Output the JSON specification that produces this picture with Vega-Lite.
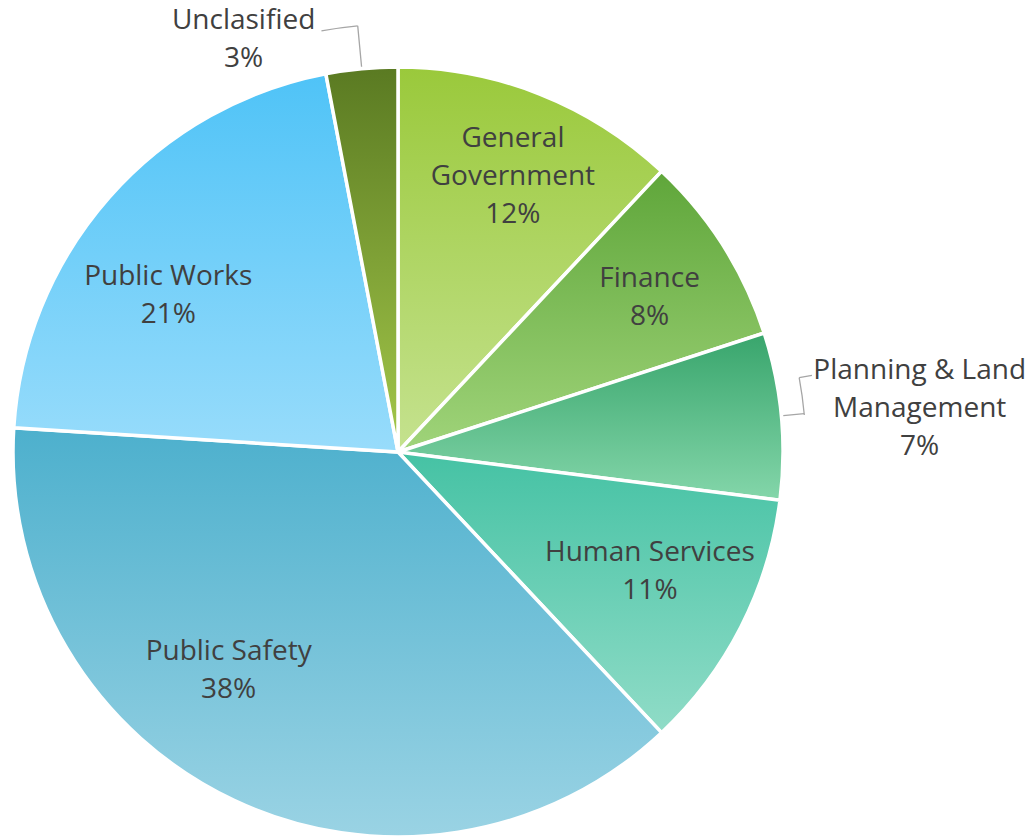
{
  "$schema": "https://vega.github.io/schema/vega-lite/v6.json",
  "width": 796,
  "height": 774,
  "autosize": "none",
  "padding": {"left": 0, "top": 65, "right": 234, "bottom": 0},
  "background": "white",
  "data": {
    "values": [
      {"name": "General Government", "label": "General\nGovernment", "value": 12, "ord": 1},
      {"name": "Finance", "label": "Finance", "value": 8, "ord": 2},
      {"name": "Planning & Land Management", "label": "Planning & Land\nManagement", "value": 7, "ord": 3},
      {"name": "Human Services", "label": "Human Services", "value": 11, "ord": 4},
      {"name": "Public Safety", "label": "Public Safety", "value": 38, "ord": 5},
      {"name": "Public Works", "label": "Public Works", "value": 21, "ord": 6},
      {"name": "Unclasified", "label": "Unclasified", "value": 3, "ord": 7}
    ]
  },
  "transform": [{"calculate": "datum.label + '\\n' + datum.value + '%'", "as": "txt"}],
  "encoding": {
    "theta": {"field": "value", "type": "quantitative", "stack": true},
    "order": {"field": "ord", "type": "quantitative", "sort": "ascending"}
  },
  "layer": [
    {
      "mark": {"type": "arc", "radius": 385, "stroke": "white", "strokeWidth": 3.5},
      "encoding": {
        "fill": {
          "condition": [
            {"test": "datum.name === 'General Government'", "value": {"gradient": "linear", "x1": 0, "y1": 0, "x2": 0, "y2": 1, "stops": [{"offset": 0, "color": "#9ac93b"}, {"offset": 1, "color": "#c5e28f"}]}},
            {"test": "datum.name === 'Finance'", "value": {"gradient": "linear", "x1": 0, "y1": 0, "x2": 0, "y2": 1, "stops": [{"offset": 0, "color": "#5fa63a"}, {"offset": 1, "color": "#a0d47a"}]}},
            {"test": "datum.name === 'Planning & Land Management'", "value": {"gradient": "linear", "x1": 0, "y1": 0, "x2": 0, "y2": 1, "stops": [{"offset": 0, "color": "#38a56c"}, {"offset": 1, "color": "#84d6aa"}]}},
            {"test": "datum.name === 'Human Services'", "value": {"gradient": "linear", "x1": 0, "y1": 0, "x2": 0, "y2": 1, "stops": [{"offset": 0, "color": "#45c2a4"}, {"offset": 1, "color": "#90dcc7"}]}},
            {"test": "datum.name === 'Public Safety'", "value": {"gradient": "linear", "x1": 0, "y1": 0, "x2": 0, "y2": 1, "stops": [{"offset": 0, "color": "#4db0cd"}, {"offset": 1, "color": "#9ad3e4"}]}},
            {"test": "datum.name === 'Public Works'", "value": {"gradient": "linear", "x1": 0, "y1": 0, "x2": 0, "y2": 1, "stops": [{"offset": 0, "color": "#4fc3f7"}, {"offset": 1, "color": "#98dcfb"}]}},
            {"test": "datum.name === 'Unclasified'", "value": {"gradient": "linear", "x1": 0, "y1": 0, "x2": 0, "y2": 1, "stops": [{"offset": 0, "color": "#5a7a22"}, {"offset": 1, "color": "#a4c84a"}]}}
          ],
          "value": "#cccccc"
        }
      }
    },
    {
      "mark": {"type": "arc", "radius": 387, "radius2": 428, "padAngle": 1, "fillOpacity": 0, "strokeWidth": 1.3},
      "encoding": {"stroke": {"condition": {"test": "datum.name === 'Unclasified'", "value": "#a6a6a6"}, "value": null}}
    },
    {
      "mark": {"type": "arc", "radius": 428, "radius2": 428, "padAngle": 0.0728, "thetaOffset": -0.0428, "fillOpacity": 0, "strokeWidth": 1.3},
      "encoding": {"stroke": {"condition": {"test": "datum.name === 'Unclasified'", "value": "#a6a6a6"}, "value": null}}
    },
    {
      "mark": {"type": "arc", "radius": 387, "radius2": 408, "padAngle": 1, "fillOpacity": 0, "strokeWidth": 1.3},
      "encoding": {"stroke": {"condition": {"test": "datum.name === 'Planning & Land Management'", "value": "#a6a6a6"}, "value": null}}
    },
    {
      "mark": {"type": "arc", "radius": 408, "radius2": 408, "padAngle": 0.245, "thetaOffset": -0.0428, "fillOpacity": 0, "strokeWidth": 1.3},
      "encoding": {"stroke": {"condition": {"test": "datum.name === 'Planning & Land Management'", "value": "#a6a6a6"}, "value": null}}
    },
    {
      "mark": {"type": "arc", "radius": 408, "radius2": 421, "padAngle": 1, "thetaOffset": -0.089, "fillOpacity": 0, "strokeWidth": 1.3},
      "encoding": {"stroke": {"condition": {"test": "datum.name === 'Planning & Land Management'", "value": "#a6a6a6"}, "value": null}}
    },
    {
      "mark": {"type": "text", "radius": 285, "dx": 10, "dy": -48},
      "encoding": {"text": {"condition": {"test": "datum.name === 'General Government'", "field": "txt", "type": "nominal"}, "value": ""}}
    },
    {
      "mark": {"type": "text", "radius": 285, "dx": 11, "dy": -20},
      "encoding": {"text": {"condition": {"test": "datum.name === 'Finance'", "field": "txt", "type": "nominal"}, "value": ""}}
    },
    {
      "mark": {"type": "text", "radius": 520, "dx": 4, "dy": -32},
      "encoding": {"text": {"condition": {"test": "datum.name === 'Planning & Land Management'", "field": "txt", "type": "nominal"}, "value": ""}}
    },
    {
      "mark": {"type": "text", "radius": 285, "dx": -2, "dy": -28},
      "encoding": {"text": {"condition": {"test": "datum.name === 'Human Services'", "field": "txt", "type": "nominal"}, "value": ""}}
    },
    {
      "mark": {"type": "text", "radius": 285, "dx": -48, "dy": -58},
      "encoding": {"text": {"condition": {"test": "datum.name === 'Public Safety'", "field": "txt", "type": "nominal"}, "value": ""}}
    },
    {
      "mark": {"type": "text", "radius": 285, "dx": -16, "dy": 13},
      "encoding": {"text": {"condition": {"test": "datum.name === 'Public Works'", "field": "txt", "type": "nominal"}, "value": ""}}
    },
    {
      "mark": {"type": "text", "radius": 440, "dx": -113, "dy": 7},
      "encoding": {"text": {"condition": {"test": "datum.name === 'Unclasified'", "field": "txt", "type": "nominal"}, "value": ""}}
    }
  ],
  "config": {
    "view": {"stroke": null},
    "text": {"font": "Open Sans", "fontSize": 28, "color": "#404040", "lineHeight": 38, "lineBreak": "\n", "align": "center", "baseline": "middle"}
  }
}
